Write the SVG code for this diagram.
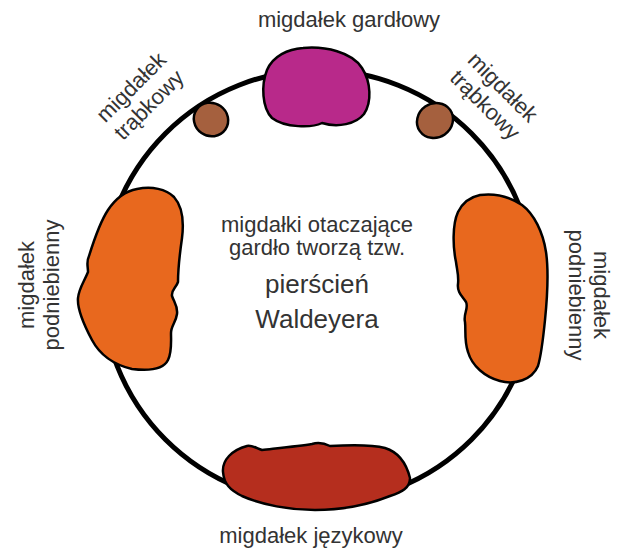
<svg xmlns="http://www.w3.org/2000/svg" width="620" height="554" viewBox="0 0 620 554">
  <style>
    .lbl { font-family: "Liberation Sans", Arial, sans-serif; font-size: 22px; fill: #333333; text-anchor: middle; }
    .big { font-size: 26px; }
    .tonsil { stroke: #000000; stroke-width: 2.5; stroke-linejoin: round; }
    .ring { fill: none; stroke: #000000; stroke-width: 5; }
  </style>
  <rect width="620" height="554" fill="#ffffff"/>

  <!-- pharyngeal ring -->
  <g id="connectors">
    <circle class="ring" cx="318.5" cy="286.5" r="216.5"/>
  </g>

  <!-- pharyngeal tonsil (top) -->
  <g id="pharyngeal">
    <path class="tonsil" fill="#B8298A" d="M 303 48 C 325 46, 352 52, 362 68 C 371 82, 372 102, 364 114 C 356 124, 338 128, 322 123 C 312 128, 285 128, 272 118 C 262 108, 261 85, 267 70 C 273 56, 288 49, 303 48 Z"/>
    <text class="lbl" x="349" y="27">migdałek gardłowy</text>
  </g>

  <!-- tubal tonsils -->
  <g id="tubal-left">
    <ellipse class="tonsil" fill="#A5603E" cx="211" cy="119.5" rx="17.5" ry="16.5" transform="rotate(35 211 119.5)"/>
    <g transform="translate(140 96) rotate(-45)">
      <text class="lbl" x="0" y="-5">migdałek</text>
      <text class="lbl" x="0" y="20">trąbkowy</text>
    </g>
  </g>
  <g id="tubal-right">
    <ellipse class="tonsil" fill="#A5603E" cx="435" cy="120.5" rx="18.5" ry="17" transform="rotate(-35 435 120.5)"/>
    <g transform="translate(494 96) rotate(45)">
      <text class="lbl" x="0" y="-5">migdałek</text>
      <text class="lbl" x="0" y="20">trąbkowy</text>
    </g>
  </g>

  <!-- palatine tonsils -->
  <g id="palatine-left">
    <path class="tonsil" fill="#E8681E" d="M 137 189 C 152 186, 166 189, 174 197 C 182 206, 184 222, 182 238 C 180 252, 178 268, 178 282 C 176 288, 171 290, 172 296 C 174 302, 178 306, 177 314 C 176 322, 171 326, 171 333 C 171 342, 172 352, 168 360 C 163 370, 148 371, 132 369 C 115 365, 100 355, 92 340 C 84 325, 77 310, 78 298 C 79 288, 84 282, 88 272 C 88 266, 86 262, 89 256 C 94 240, 100 222, 108 210 C 116 198, 126 191, 137 189 Z"/>
    <g transform="translate(0 285) rotate(-90)">
      <text class="lbl" x="0" y="34">migdałek</text>
      <text class="lbl" x="0" y="59">podniebienny</text>
    </g>
  </g>
  <g id="palatine-right">
    <path class="tonsil" fill="#E8681E" d="M 480 195 C 495 193, 510 197, 522 205 C 534 214, 543 232, 546 252 C 549 272, 547 300, 545 320 C 543 340, 541 356, 538 366 C 532 380, 515 385, 500 381 C 485 377, 472 366, 468 352 C 464 340, 466 330, 465 322 C 463 314, 469 308, 466 302 C 462 296, 457 292, 458 284 C 459 276, 457 270, 456 262 C 453 248, 452 225, 458 212 C 463 202, 470 197, 480 195 Z"/>
    <g transform="translate(620 295) rotate(90)">
      <text class="lbl" x="0" y="26">migdałek</text>
      <text class="lbl" x="0" y="51">podniebienny</text>
    </g>
  </g>

  <!-- lingual tonsil (bottom) -->
  <g id="lingual">
    <path class="tonsil" fill="#B52E1E" d="M 247 446 C 252 445, 256 448, 262 450 C 280 448, 300 446, 312 444 C 318 442, 324 443, 330 446 C 348 445, 370 444, 385 448 C 398 452, 406 462, 410 478 C 410 488, 402 492, 390 496 C 370 504, 345 510, 315 510 C 290 510, 262 505, 242 496 C 230 490, 224 484, 223 472 C 222 460, 232 450, 247 446 Z"/>
    <text class="lbl" x="311" y="543">migdałek językowy</text>
  </g>

  <!-- caption inside the ring -->
  <g id="caption">
    <text class="lbl" x="317" y="232">migdałki otaczające</text>
    <text class="lbl" x="317" y="255">gardło tworzą tzw.</text>
    <text class="lbl big" x="317" y="293">pierścień</text>
    <text class="lbl big" x="317" y="328">Waldeyera</text>
  </g>
</svg>
